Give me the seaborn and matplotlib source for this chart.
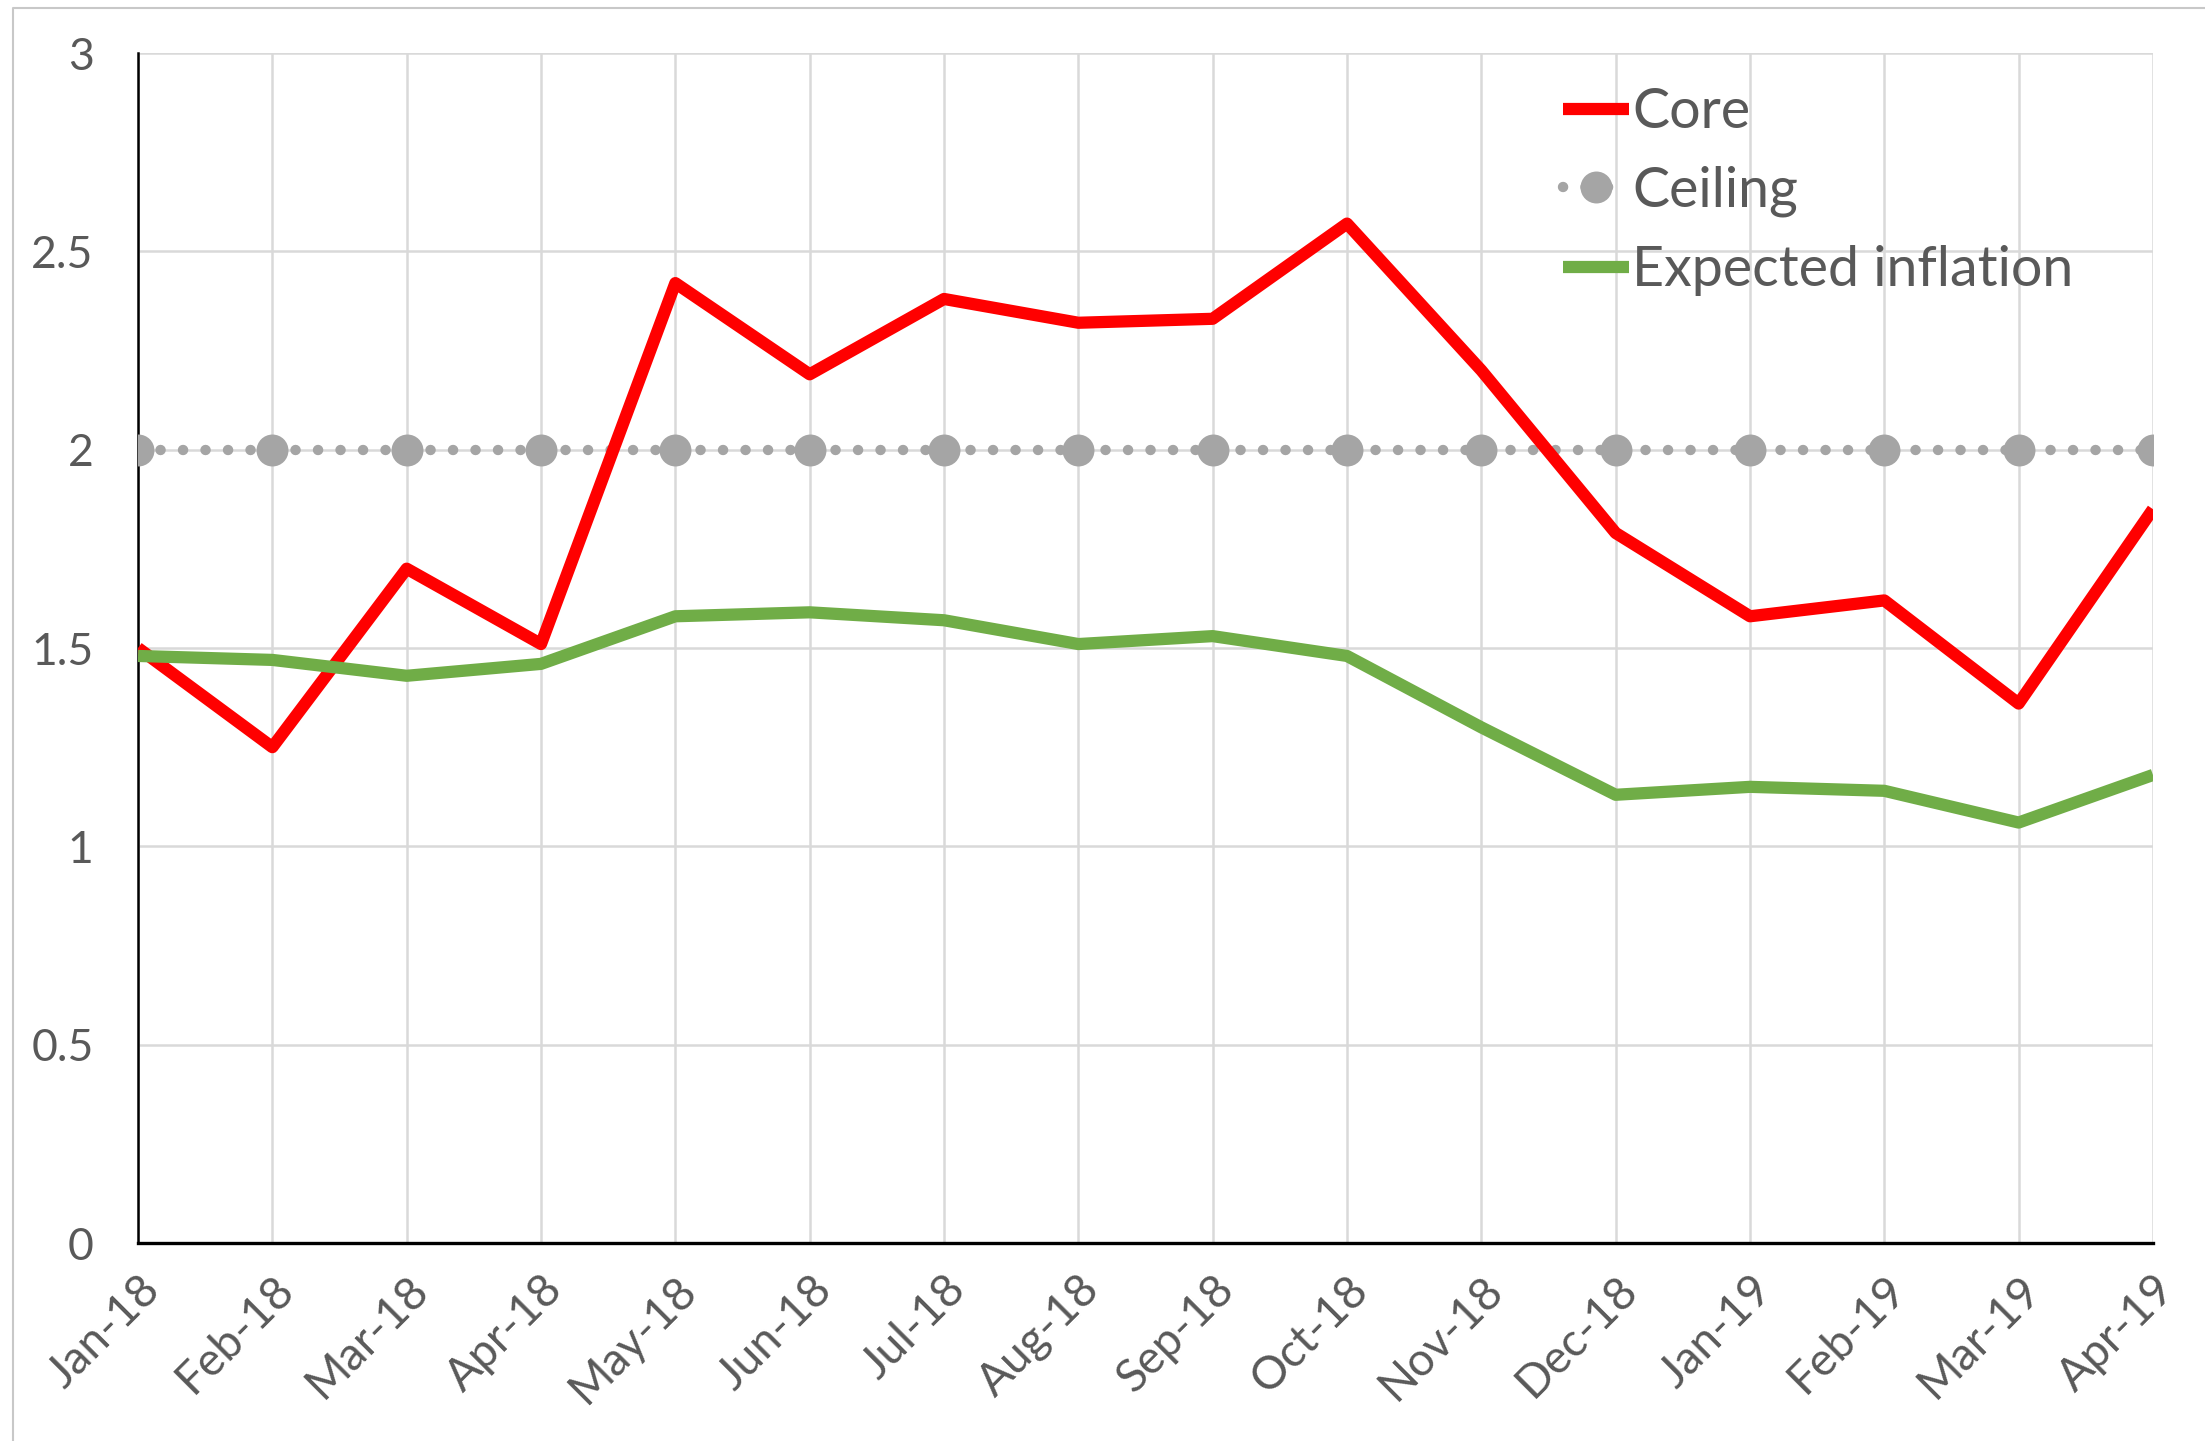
import numpy as np
import pandas as pd
import seaborn as sns
import matplotlib.pyplot as plt
from matplotlib.lines import Line2D

sns.set_style("white")
plt.rcParams['font.family'] = ['Lato', 'DejaVu Sans']

## DATA
months = ['Jan-18', 'Feb-18', 'Mar-18', 'Apr-18', 'May-18', 'Jun-18', 'Jul-18', 'Aug-18',
          'Sep-18', 'Oct-18', 'Nov-18', 'Dec-18', 'Jan-19', 'Feb-19', 'Mar-19', 'Apr-19']
core = [1.50, 1.25, 1.70, 1.51, 2.42, 2.19, 2.38, 2.32, 2.33, 2.57, 2.20, 1.79, 1.58, 1.62, 1.36, 1.85]
ceiling = [2.0] * 16
expected = [1.48, 1.47, 1.43, 1.46, 1.58, 1.59, 1.57, 1.51, 1.53, 1.48, 1.30, 1.13, 1.15, 1.14, 1.06, 1.18]

df = pd.DataFrame({'month': months, 'pos': range(len(months)),
                   'Core': core, 'Ceiling': ceiling, 'Expected inflation': expected})

txt = '#595959'
fig = plt.figure(figsize=(22.05, 14.41), dpi=100)
ax = fig.add_axes([0.0626, 0.1374, 0.9138, 0.8258])

# chart border (only top/left visible in the crop)
bx, by = 13 / 2205, 1 - 8 / 1441
fig.lines.append(Line2D([bx, bx, 1], [0, by, by], transform=fig.transFigure,
                        color='#C8C8C8', lw=1.5))

sns.lineplot(data=df, x='pos', y='Core', ax=ax, color='#FF0000', lw=8.8,
             label='Core', solid_capstyle='butt', zorder=4)
sns.lineplot(data=df, x='pos', y='Ceiling', ax=ax, color='#A5A5A5', lw=7.5,
             linestyle=(0, (0.01, 2.15)), dash_capstyle='round', marker='o',
             markersize=23, markeredgewidth=0, label='Ceiling', zorder=3)
sns.lineplot(data=df, x='pos', y='Expected inflation', ax=ax, color='#70AD47', lw=8.8,
             label='Expected inflation', solid_capstyle='butt', zorder=4)

ax.set_xlim(0, len(months) - 1)
ax.set_ylim(0, 3)
ax.set_xticks(df['pos'])
ax.set_xticklabels(months, rotation=45, ha='right', rotation_mode='anchor')
ax.set_yticks([0, 0.5, 1, 1.5, 2, 2.5, 3])
ax.set_yticklabels(['0', '0.5', '1', '1.5', '2', '2.5', '3'])
ax.tick_params(axis='x', length=0, pad=18, labelsize=33, labelcolor=txt)
ax.tick_params(axis='y', length=0, pad=32, labelsize=32, labelcolor=txt)
ax.set_xlabel('')
ax.set_ylabel('')

ax.grid(True, color='#D9D9D9', lw=1.8)
ax.set_axisbelow(True)
for s in ['top', 'right']:
    ax.spines[s].set_visible(False)
ax.spines['left'].set_color('black')
ax.spines['left'].set_linewidth(1.8)
ax.spines['bottom'].set_color('black')
ax.spines['bottom'].set_linewidth(2.4)

leg = ax.legend(loc='upper left', bbox_to_anchor=(0.696, 0.99), frameon=False,
                fontsize=40, handlelength=1.2, handletextpad=0.05, labelspacing=0.5,
                borderaxespad=0)
for t in leg.get_texts():
    t.set_color(txt)

fig.savefig('out.png', dpi=100)
